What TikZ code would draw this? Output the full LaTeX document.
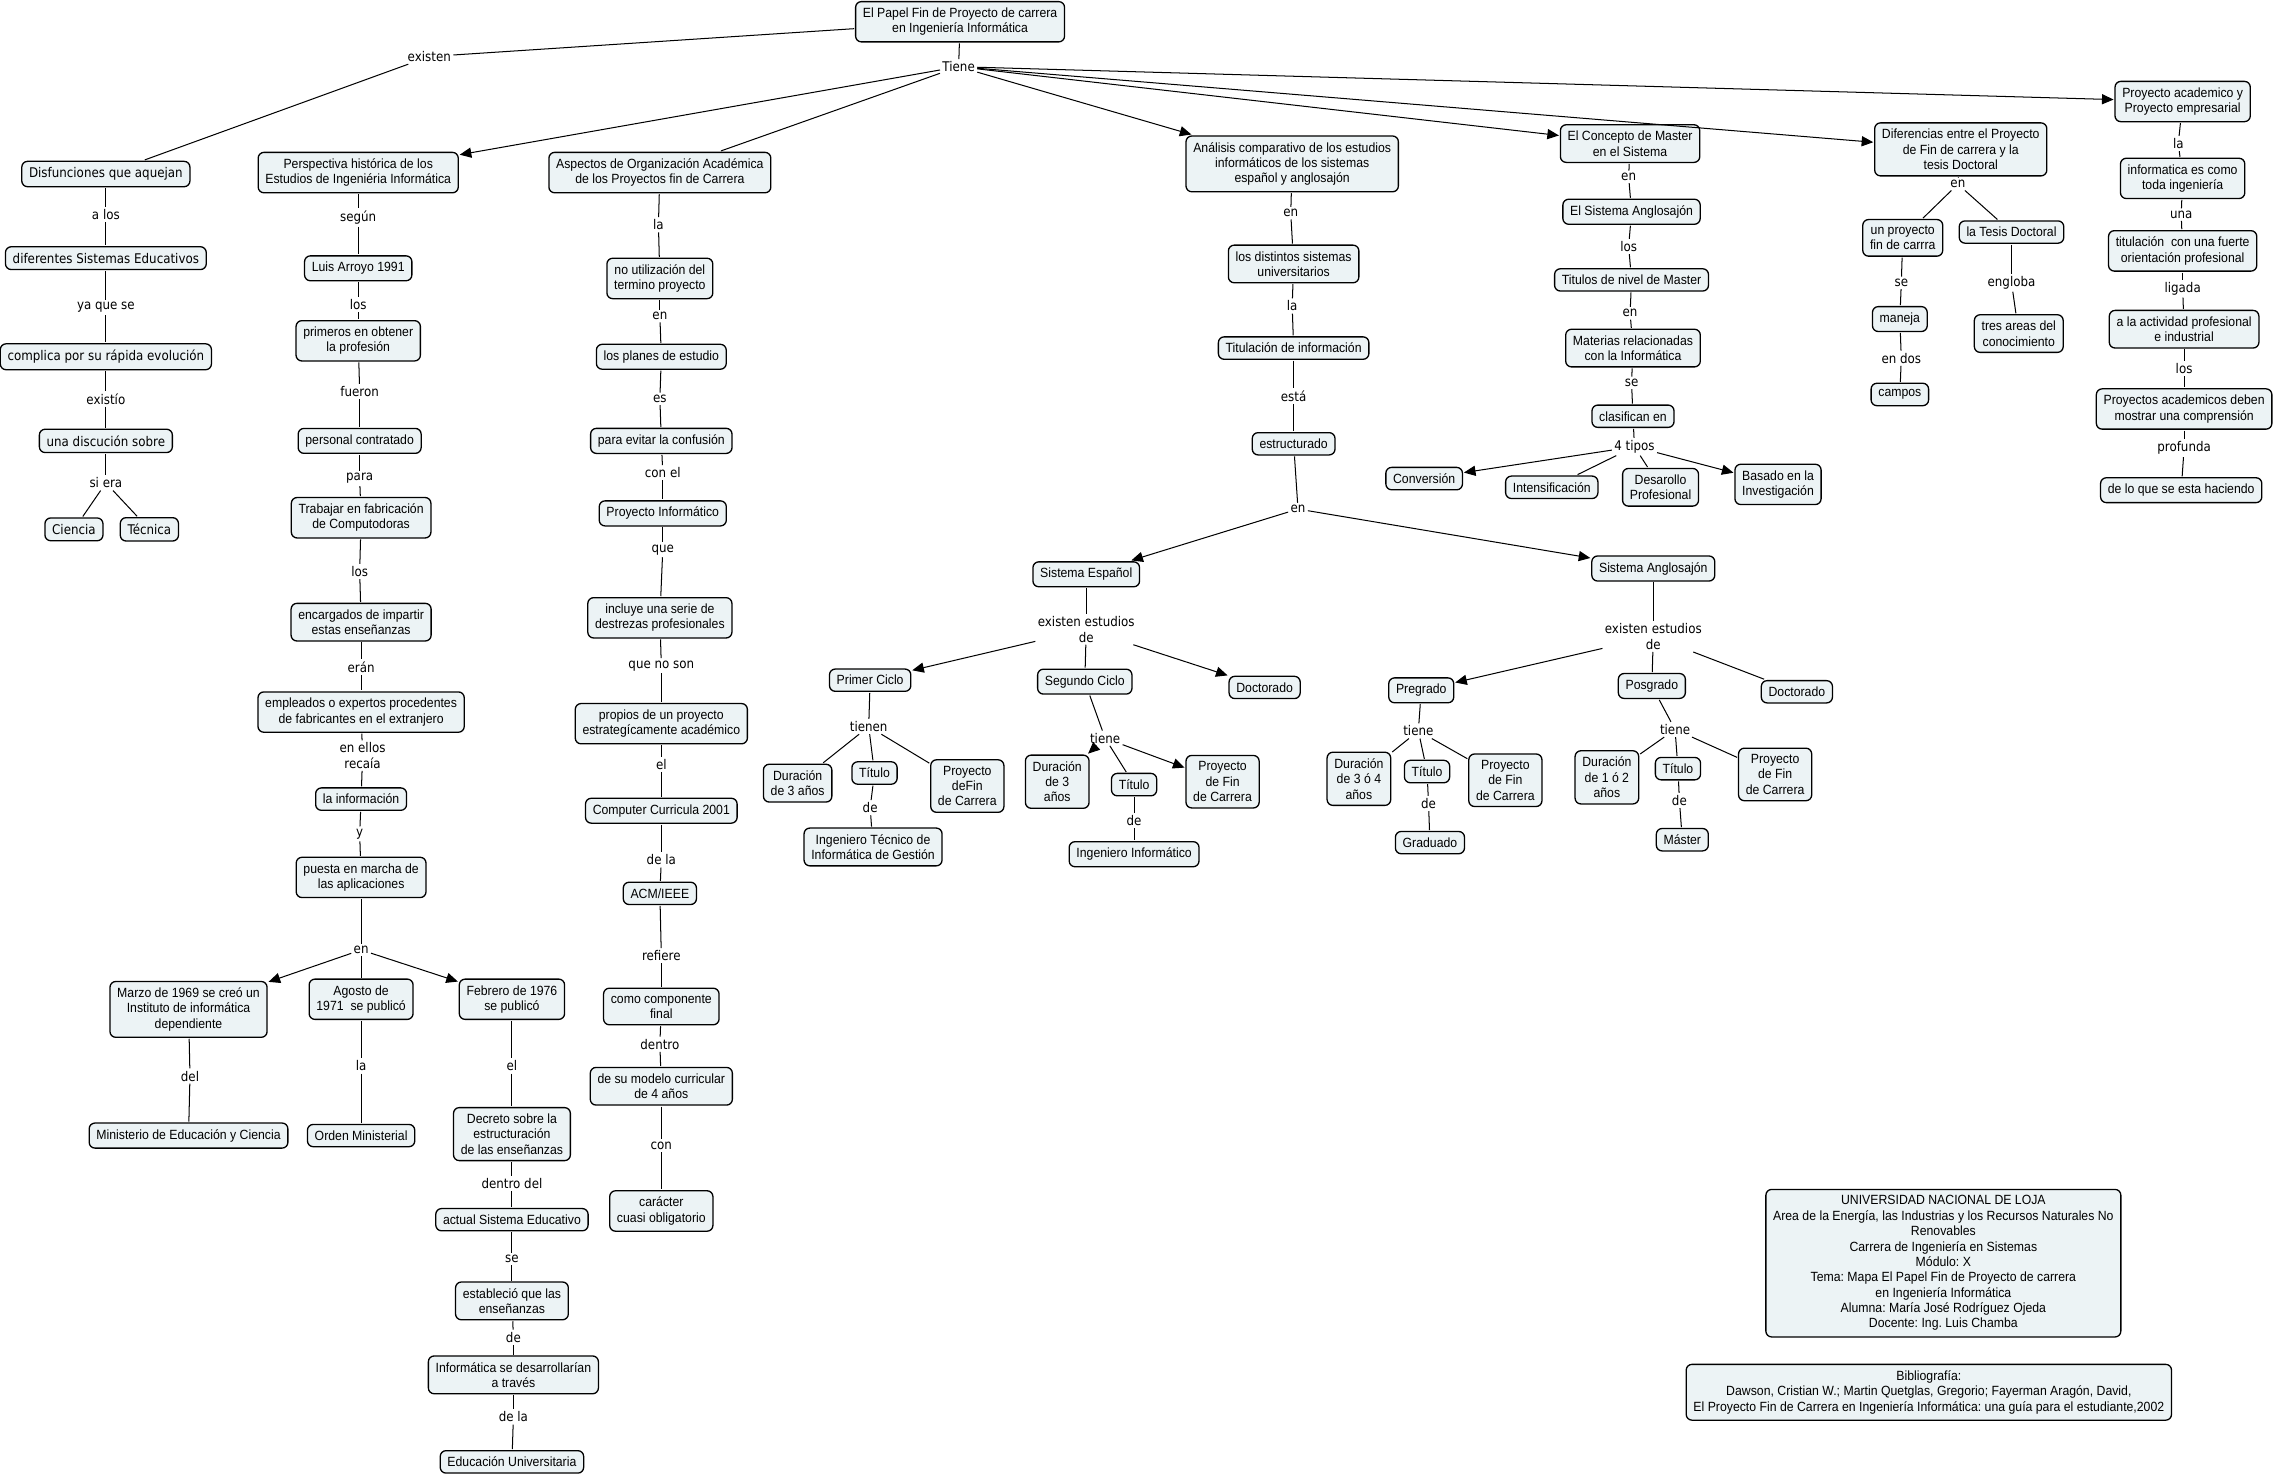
\documentclass[tikz,border=0pt]{standalone}
\usepackage{fontspec}
\setmainfont{Liberation Sans}[FakeStretch=0.92]
\newfontfamily\lbfont{DejaVu Sans}[FakeStretch=0.89]
\usetikzlibrary{arrows.meta}
\definecolor{cfill}{RGB}{236,243,245}
\frenchspacing
\tikzset{
  cpt/.style={draw=black, line width=0.9pt, fill=cfill, rounded corners=4pt, align=center,
    inner xsep=5pt, inner ysep=4.3pt, font=\fontsize{9.2}{10.6}\selectfont, outer sep=1pt},
  cptw/.style={cpt, font=\lbfont\fontsize{9.2}{10.6}\selectfont},
  lbl/.style={align=center, inner sep=1.5pt, font=\lbfont\fontsize{9.2}{10.6}\selectfont},
  con/.style={line width=0.7pt},
  arr/.style={con, -{Triangle[length=8pt,width=7pt]}},
}
\begin{document}
\begin{tikzpicture}[x=1pt,y=-1pt]
\useasboundingbox (0,0) rectangle (1568,1018);
% root
\node[cpt] (root) at (662,15) {El Papel Fin de Proyecto de carrera\\en Ingeniería Informática};
\node[lbl] (tiene) at (661,46) {Tiene};
\node[lbl] (existen) at (296,39) {existen};
% column 1
\node[cptw] (disf) at (73,120) {Disfunciones que aquejan};
\node[lbl] (l1a) at (73,148) {a los};
\node[cptw] (difs) at (73,178) {diferentes Sistemas Educativos};
\node[lbl] (l1b) at (73,212) {ya que se};
\node[cptw] (compl) at (73,246) {complica por su rápida evolución};
\node[lbl] (l1c) at (73,275) {existío};
\node[cptw] (discu) at (73,304) {una discución sobre};
\node[lbl] (l1d) at (73,333) {si era};
\node[cptw] (cien) at (51,365) {Ciencia};
\node[cptw] (tecn) at (103,365) {Técnica};
% column 2
\node[cpt] (persp) at (247,119) {Perspectiva histórica de los\\Estudios de Ingeniéria Informática};
\node[lbl] (l2a) at (247,150) {según};
\node[cpt] (arroyo) at (247,185) {Luis Arroyo 1991};
\node[lbl] (l2b) at (247,210) {los};
\node[cpt] (prim) at (247,235) {primeros en obtener\\la profesión};
\node[lbl] (l2c) at (248,270) {fueron};
\node[cpt] (pers) at (248,304) {personal contratado};
\node[lbl] (l2d) at (248,330) {para};
\node[cpt] (trab) at (249,357) {Trabajar en fabricación\\de Computodoras};
\node[lbl] (l2e) at (248,394) {los};
\node[cpt] (enc) at (249,429) {encargados de impartir\\estas enseñanzas};
\node[lbl] (l2f) at (249,460) {erán};
\node[cpt] (empl) at (249,491) {empleados o expertos procedentes\\de fabricantes en el extranjero};
\node[lbl] (l2g) at (250,521) {en ellos\\recaía};
\node[cpt] (info) at (249,551) {la información};
\node[lbl] (l2h) at (248,575) {y};
\node[cpt] (puesta) at (249,605) {puesta en marcha de\\las aplicaciones};
\node[lbl] (l2i) at (249,655) {en};
\node[cpt] (marzo) at (130,696) {Marzo de 1969 se creó un\\Instituto de informática\\dependiente};
\node[cpt] (agosto) at (249,689) {Agosto de\\1971\ \ se publicó};
\node[cpt] (febr) at (353,689) {Febrero de 1976\\se publicó};
\node[lbl] (l2j) at (131,742) {del};
\node[cpt] (minis) at (130,783) {Ministerio de Educación y Ciencia};
\node[lbl] (l2k) at (249,735) {la};
\node[cpt] (orden) at (249,783) {Orden Ministerial};
\node[lbl] (l2l) at (353,735) {el};
\node[cpt] (decr) at (353,782) {Decreto sobre la\\estructuración\\de las enseñanzas};
\node[lbl] (l2m) at (353,816) {dentro del};
\node[cpt] (actual) at (353,841) {actual Sistema Educativo};
\node[lbl] (l2n) at (353,868) {se};
\node[cpt] (estab) at (353,897) {estableció que las\\enseñanzas};
\node[lbl] (l2o) at (354,922) {de};
\node[cpt] (infdes) at (354,948) {Informática se desarrollarían\\a través};
\node[lbl] (l2p) at (354,977) {de la};
\node[cpt] (eduu) at (353,1008) {Educación Universitaria};
% column 3
\node[cpt] (asp) at (455,119) {Aspectos de Organización Académica\\de los Proyectos fin de Carrera};
\node[lbl] (l3a) at (454,155) {la};
\node[cpt] (noutil) at (455,192) {no utilización del\\termino proyecto};
\node[lbl] (l3b) at (455,218) {en};
\node[cpt] (planes) at (456,246) {los planes de estudio};
\node[lbl] (l3c) at (455,275) {es};
\node[cpt] (evitar) at (456,304) {para evitar la confusión};
\node[lbl] (l3d) at (457,326) {con el};
\node[cpt] (pinf) at (457,354) {Proyecto Informático};
\node[lbl] (l3e) at (457,379) {que};
\node[cpt] (incl) at (455,426) {incluye una serie de\\destrezas profesionales};
\node[lbl] (l3f) at (456,459) {que no son};
\node[cpt] (propios) at (456,499) {propios de un proyecto\\estrategícamente académico};
\node[lbl] (l3g) at (456,527) {el};
\node[cpt] (cc) at (456,559) {Computer Curricula 2001};
\node[lbl] (l3h) at (456,593) {de la};
\node[cpt] (acm) at (455,616) {ACM/IEEE};
\node[lbl] (l3i) at (456,659) {refiere};
\node[cpt] (comp) at (456,694) {como componente\\final};
\node[lbl] (l3j) at (455,720) {dentro};
\node[cpt] (modelo) at (456,749) {de su modelo curricular\\de 4 años};
\node[lbl] (l3k) at (456,790) {con};
\node[cpt] (carac) at (456,835) {carácter\\cuasi obligatorio};
% column 4
\node[cpt] (anal) at (891,113) {Análisis comparativo de los estudios\\informáticos de los sistemas\\español y anglosajón};
\node[lbl] (l4a) at (890,147) {en};
\node[cpt] (dist) at (892,182) {los distintos sistemas\\universitarios};
\node[lbl] (l4b) at (891,211) {la};
\node[cpt] (titu) at (892,240) {Titulación de información};
\node[lbl] (l4c) at (892,273) {está};
\node[cpt] (estr) at (892,306) {estructurado};
\node[lbl] (l4d) at (895,351) {en};
\node[cpt] (sesp) at (749,396) {Sistema Español};
\node[cpt] (sang) at (1140,392) {Sistema Anglosajón};
% spanish system
\node[lbl] (l5a) at (749,434) {existen estudios\\de};
\node[cpt] (pciclo) at (600,469) {Primer Ciclo};
\node[cpt] (sciclo) at (748,470) {Segundo Ciclo};
\node[cpt] (doc1) at (872,474) {Doctorado};
\node[lbl] (l5b) at (599,501) {tienen};
\node[cpt] (dur1) at (550,540) {Duración\\de 3 años};
\node[cpt] (tit1) at (603,533) {Título};
\node[cpt] (pfc1) at (667,542) {Proyecto\\deFin\\de Carrera};
\node[lbl] (l5c) at (600,557) {de};
\node[cpt] (ingt) at (602,584) {Ingeniero Técnico de\\Informática de Gestión};
\node[lbl] (l5d) at (762,509) {tiene};
\node[cpt] (dur2) at (729,539) {Duración\\de 3\\años};
\node[cpt] (tit2) at (782,541) {Título};
\node[cpt] (pfc2) at (843,539) {Proyecto\\de Fin\\de Carrera};
\node[lbl] (l5e) at (782,566) {de};
\node[cpt] (ingi) at (782,589) {Ingeniero Informático};
% anglo system
\node[lbl] (l6a) at (1140,439) {existen estudios\\de};
\node[cpt] (pregr) at (980,476) {Pregrado};
\node[cpt] (posg) at (1139,473) {Posgrado};
\node[cpt] (doc2) at (1239,477) {Doctorado};
\node[lbl] (l6b) at (978,504) {tiene};
\node[cpt] (dur3) at (937,537) {Duración\\de 3 ó 4\\años};
\node[cpt] (tit3) at (984,532) {Título};
\node[cpt] (pfc3) at (1038,538) {Proyecto\\de Fin\\de Carrera};
\node[lbl] (l6c) at (985,554) {de};
\node[cpt] (grad) at (986,581) {Graduado};
\node[lbl] (l6d) at (1155,503) {tiene};
\node[cpt] (dur4) at (1108,536) {Duración\\de 1 ó 2\\años};
\node[cpt] (tit4) at (1157,530) {Título};
\node[cpt] (pfc4) at (1224,534) {Proyecto\\de Fin\\de Carrera};
\node[lbl] (l6e) at (1158,552) {de};
\node[cpt] (mast) at (1160,579) {Máster};
% master concept
\node[cpt] (mcon) at (1124,99) {El Concepto de Master\\en el Sistema};
\node[lbl] (l7a) at (1123,122) {en};
\node[cpt] (sang2) at (1125,146) {El Sistema Anglosajón};
\node[lbl] (l7b) at (1123,170) {los};
\node[cpt] (titm) at (1125,193) {Titulos de nivel de Master};
\node[lbl] (l7c) at (1124,216) {en};
\node[cpt] (mat) at (1126,240) {Materias relacionadas\\con la Informática};
\node[lbl] (l7d) at (1125,264) {se};
\node[cpt] (clas) at (1126,287) {clasifican en};
\node[lbl] (l7e) at (1127,308) {4 tipos};
\node[cpt] (conv) at (982,330) {Conversión};
\node[cpt] (intens) at (1070,336) {Intensificación};
\node[cpt] (desa) at (1145,336) {Desarollo\\Profesional};
\node[cpt] (basado) at (1226,334) {Basado en la\\Investigación};
% diferencias
\node[cpt] (dif) at (1352,103) {Diferencias entre el Proyecto\\de Fin de carrera y la\\tesis Doctoral};
\node[lbl] (l8a) at (1350,127) {en};
\node[cpt] (upfc) at (1312,164) {un proyecto\\fin de carrra};
\node[cpt] (ltd) at (1387,160) {la Tesis Doctoral};
\node[lbl] (l8b) at (1311,195) {se};
\node[cpt] (maneja) at (1310,220) {maneja};
\node[lbl] (l8c) at (1311,247) {en dos};
\node[cpt] (campos) at (1310,272) {campos};
\node[lbl] (l8d) at (1387,195) {engloba};
\node[cpt] (tres) at (1392,230) {tres areas del\\conocimiento};
% proyecto academico
\node[cpt] (pacad) at (1505,70) {Proyecto academico y\\Proyecto empresarial};
\node[lbl] (l9a) at (1502,99) {la};
\node[cpt] (infcomo) at (1505,123) {informatica es como\\toda ingeniería};
\node[lbl] (l9b) at (1504,148) {una};
\node[cpt] (titf) at (1505,173) {titulación\ \ con una fuerte\\orientación profesional};
\node[lbl] (l9c) at (1505,199) {ligada};
\node[cpt] (actp) at (1506,227) {a la actividad profesional\\e industrial};
\node[lbl] (l9d) at (1506,254) {los};
\node[cpt] (pacads) at (1506,282) {Proyectos academicos deben\\mostrar una comprensión};
\node[lbl] (l9e) at (1506,309) {profunda};
\node[cpt] (delo) at (1504,338) {de lo que se esta haciendo};
% footer
\node[cpt, minimum width=244pt] (univ) at (1340,871) {UNIVERSIDAD NACIONAL DE LOJA\\Area de la Energía, las Industrias y los Recursos Naturales No\\Renovables\\Carrera de Ingeniería en Sistemas\\Módulo: X\\Tema: Mapa El Papel Fin de Proyecto de carrera\\en Ingeniería Informática\\Alumna: María José Rodríguez Ojeda\\Docente: Ing. Luis Chamba};
\node[cpt, minimum width=328pt] (bib) at (1330,960) {Bibliografía:\\Dawson, Cristian W.; Martin Quetglas, Gregorio; Fayerman Aragón, David,\\El Proyecto Fin de Carrera en Ingeniería Informática: una guía para el estudiante,2002};

% connectors
\draw[con] (root) -- (tiene);
\draw[con] (root) -- (existen);
\draw[con] (existen) -- (disf);
\draw[arr] (tiene) -- (persp);
\draw[con] (tiene) -- (asp);
\draw[arr] (tiene) -- (anal);
\draw[arr] (tiene) -- (mcon);
\draw[arr] (tiene) -- (dif);
\draw[arr] (tiene) -- (pacad);
% col1
\draw[con] (disf) -- (l1a); \draw[con] (l1a) -- (difs);
\draw[con] (difs) -- (l1b); \draw[con] (l1b) -- (compl);
\draw[con] (compl) -- (l1c); \draw[con] (l1c) -- (discu);
\draw[con] (discu) -- (l1d); \draw[con] (l1d) -- (cien); \draw[con] (l1d) -- (tecn);
% col2
\draw[con] (persp) -- (l2a); \draw[con] (l2a) -- (arroyo);
\draw[con] (arroyo) -- (l2b); \draw[con] (l2b) -- (prim);
\draw[con] (prim) -- (l2c); \draw[con] (l2c) -- (pers);
\draw[con] (pers) -- (l2d); \draw[con] (l2d) -- (trab);
\draw[con] (trab) -- (l2e); \draw[con] (l2e) -- (enc);
\draw[con] (enc) -- (l2f); \draw[con] (l2f) -- (empl);
\draw[con] (empl) -- (l2g); \draw[con] (l2g) -- (info);
\draw[con] (info) -- (l2h); \draw[con] (l2h) -- (puesta);
\draw[con] (puesta) -- (l2i);
\draw[arr] (l2i) -- (marzo); \draw[con] (l2i) -- (agosto); \draw[arr] (l2i) -- (febr);
\draw[con] (marzo) -- (l2j); \draw[con] (l2j) -- (minis);
\draw[con] (agosto) -- (l2k); \draw[con] (l2k) -- (orden);
\draw[con] (febr) -- (l2l); \draw[con] (l2l) -- (decr);
\draw[con] (decr) -- (l2m); \draw[con] (l2m) -- (actual);
\draw[con] (actual) -- (l2n); \draw[con] (l2n) -- (estab);
\draw[con] (estab) -- (l2o); \draw[con] (l2o) -- (infdes);
\draw[con] (infdes) -- (l2p); \draw[con] (l2p) -- (eduu);
% col3
\draw[con] (asp) -- (l3a); \draw[con] (l3a) -- (noutil);
\draw[con] (noutil) -- (l3b); \draw[con] (l3b) -- (planes);
\draw[con] (planes) -- (l3c); \draw[con] (l3c) -- (evitar);
\draw[con] (evitar) -- (l3d); \draw[con] (l3d) -- (pinf);
\draw[con] (pinf) -- (l3e); \draw[con] (l3e) -- (incl);
\draw[con] (incl) -- (l3f); \draw[con] (l3f) -- (propios);
\draw[con] (propios) -- (l3g); \draw[con] (l3g) -- (cc);
\draw[con] (cc) -- (l3h); \draw[con] (l3h) -- (acm);
\draw[con] (acm) -- (l3i); \draw[con] (l3i) -- (comp);
\draw[con] (comp) -- (l3j); \draw[con] (l3j) -- (modelo);
\draw[con] (modelo) -- (l3k); \draw[con] (l3k) -- (carac);
% col4
\draw[con] (anal) -- (l4a); \draw[con] (l4a) -- (dist);
\draw[con] (dist) -- (l4b); \draw[con] (l4b) -- (titu);
\draw[con] (titu) -- (l4c); \draw[con] (l4c) -- (estr);
\draw[con] (estr) -- (l4d);
\draw[arr] (l4d) -- (sesp); \draw[arr] (l4d) -- (sang);
% spanish
\draw[con] (sesp) -- (l5a);
\draw[arr] (l5a) -- (pciclo); \draw[con] (l5a) -- (sciclo); \draw[arr] (l5a) -- (doc1);
\draw[con] (pciclo) -- (l5b);
\draw[con] (l5b) -- (dur1); \draw[con] (l5b) -- (tit1); \draw[con] (l5b) -- (pfc1);
\draw[con] (tit1) -- (l5c); \draw[con] (l5c) -- (ingt);
\draw[con] (sciclo) -- (l5d);
\draw[arr] (l5d) -- (dur2); \draw[con] (l5d) -- (tit2); \draw[arr] (l5d) -- (pfc2);
\draw[con] (tit2) -- (l5e); \draw[con] (l5e) -- (ingi);
% anglo
\draw[con] (sang) -- (l6a);
\draw[arr] (l6a) -- (pregr); \draw[con] (l6a) -- (posg); \draw[con] (l6a) -- (doc2);
\draw[con] (pregr) -- (l6b);
\draw[con] (l6b) -- (dur3); \draw[con] (l6b) -- (tit3); \draw[con] (l6b) -- (pfc3);
\draw[con] (tit3) -- (l6c); \draw[con] (l6c) -- (grad);
\draw[con] (posg) -- (l6d);
\draw[con] (l6d) -- (dur4); \draw[con] (l6d) -- (tit4); \draw[con] (l6d) -- (pfc4);
\draw[con] (tit4) -- (l6e); \draw[con] (l6e) -- (mast);
% master
\draw[con] (mcon) -- (l7a); \draw[con] (l7a) -- (sang2);
\draw[con] (sang2) -- (l7b); \draw[con] (l7b) -- (titm);
\draw[con] (titm) -- (l7c); \draw[con] (l7c) -- (mat);
\draw[con] (mat) -- (l7d); \draw[con] (l7d) -- (clas);
\draw[con] (clas) -- (l7e);
\draw[arr] (l7e) -- (conv); \draw[con] (l7e) -- (intens); \draw[con] (l7e) -- (desa); \draw[arr] (l7e) -- (basado);
% diferencias
\draw[con] (dif) -- (l8a);
\draw[con] (l8a) -- (upfc); \draw[con] (l8a) -- (ltd);
\draw[con] (upfc) -- (l8b); \draw[con] (l8b) -- (maneja);
\draw[con] (maneja) -- (l8c); \draw[con] (l8c) -- (campos);
\draw[con] (ltd) -- (l8d); \draw[con] (l8d) -- (tres);
% proyecto academico
\draw[con] (pacad) -- (l9a); \draw[con] (l9a) -- (infcomo);
\draw[con] (infcomo) -- (l9b); \draw[con] (l9b) -- (titf);
\draw[con] (titf) -- (l9c); \draw[con] (l9c) -- (actp);
\draw[con] (actp) -- (l9d); \draw[con] (l9d) -- (pacads);
\draw[con] (pacads) -- (l9e); \draw[con] (l9e) -- (delo);
\end{tikzpicture}
\end{document}
